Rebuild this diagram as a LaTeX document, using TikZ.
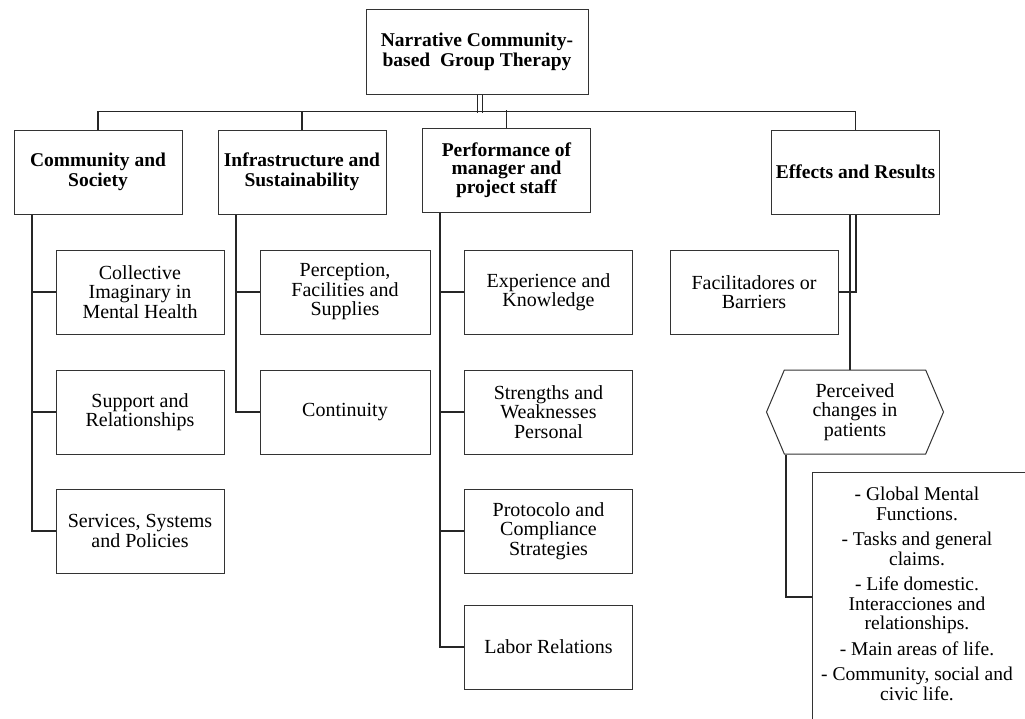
\documentclass[tikz,border=0pt]{standalone}
\usepackage{fontspec}
\setmainfont{Liberation Serif}
\usetikzlibrary{positioning,shapes.symbols}
\tikzset{
  box/.style={draw=black!80, line width=1pt, align=center, minimum width=168pt,
    minimum height=84pt, inner sep=2pt, font=\fontsize{20}{19.5}\selectfont},
  head/.style={box, font=\fontsize{19.5}{20}\selectfont\bfseries},
  link/.style={draw=black!85, line width=1.1pt},
}

\begin{document}
\begin{tikzpicture}[x=1pt,y=-1pt]
  \useasboundingbox (0,0) rectangle (1025,718);

  %% Root
  \node[head, minimum width=222pt, minimum height=85pt] (root) at (477,52)
    {Narrative Community-\\based~~Group Therapy};

  %% Headers
  \node[head] (comm)  at (98,172)    {Community and\\Society};
  \node[head] (infra) at (302,172)   {Infrastructure and\\Sustainability};
  \node[head, font=\fontsize{19.5}{17.5}\selectfont\bfseries] (perf) at (506.5,170)
    {Performance of\\manager and\\project staff};
  \node[head] (eff)   at (855.5,172) {Effects and Results};

  %% Community and Society
  \node[box] (coll) at (140,292) {Collective\\Imaginary in\\Mental Health};
  \node[box] (supp) at (140,412) {Support and\\Relationships};
  \node[box] (serv) at (140,531) {Services, Systems\\and Policies};

  %% Infrastructure and Sustainability
  \node[box, minimum width=170pt] (perc) at (345,292) {Perception,\\Facilities and\\Supplies};
  \node[box, minimum width=170pt] (cont) at (345,412) {Continuity};

  %% Performance of manager and project staff
  \node[box] (expe) at (548.5,292) {Experience and\\Knowledge};
  \node[box] (stre) at (548.5,412) {Strengths and\\Weaknesses\\Personal};
  \node[box] (prot) at (548.5,531) {Protocolo and\\Compliance\\Strategies};
  \node[box] (labo) at (548.5,647) {Labor Relations};

  %% Effects and Results
  \node[box] (faci) at (754,292) {Facilitadores or\\Barriers};
  \node[box, signal, signal to=west and east, signal pointer angle=134,
    minimum width=177pt] (hexa) at (855,412) {Perceived\\changes in\\patients};
  \node[draw=black!80, line width=1pt, minimum width=240pt, minimum height=270pt,
    anchor=north west] (listbox) at (812,472) {};
  \node[align=center, font=\fontsize{19.5}{19.5}\selectfont] (list) at (917,594)
    {- Global Mental\\Functions.\\[6pt]
     - Tasks and general\\claims.\\[6pt]
     - Life domestic.\\Interacciones and\\relationships.\\[6pt]
     - Main areas of life.\\[6pt]
     - Community, social and\\civic life.};

  %% Root to headers
  \draw[link, double, double distance=4pt] ([xshift=3pt]root.south) -- ++(0,18);
  \draw[link] (comm.north) -- ++(0,-18) -| (eff.north);
  \draw[link] (infra.north) -- ++(0,-18);
  \draw[link] (perf.north) -- ++(0,-18);

  %% Trunks
  \draw[link] ([xshift=-66pt]comm.south) |- (serv.west);
  \foreach \c in {coll,supp}
    \draw[link] (\c.west) -- ++(-24,0);
  \draw[link] ([xshift=-66pt]infra.south) |- (cont.west);
  \draw[link] (perc.west) -- ++(-24,0);
  \draw[link] ([xshift=-66.5pt]perf.south) |- (labo.west);
  \foreach \c in {expe,stre,prot}
    \draw[link] (\c.west) -- ++(-24,0);

  %% Effects branch
  \draw[link] ([xshift=0.5pt]eff.south) |- (faci.east);
  \draw[link] ([xshift=-5.5pt]eff.south) -- ([xshift=-5pt]hexa.north);
  \draw[link] ([xshift=-69pt]hexa.south) |- ([yshift=-125pt]listbox.north west);
\end{tikzpicture}
\end{document}
